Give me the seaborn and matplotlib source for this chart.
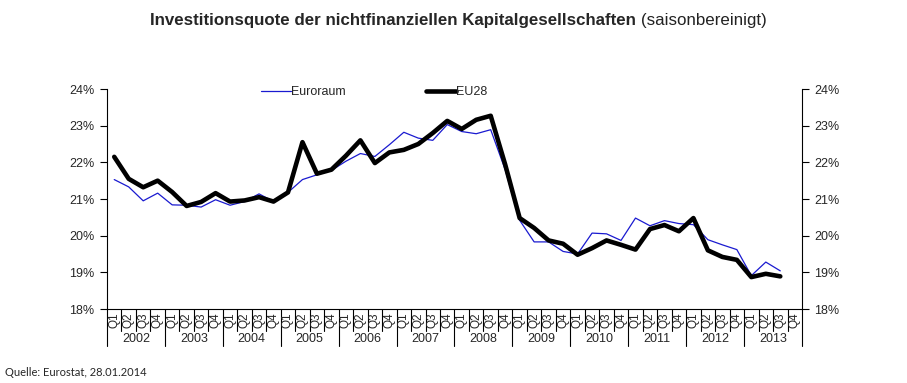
import numpy as np
import pandas as pd
import matplotlib
matplotlib.use('Agg')
import matplotlib.pyplot as plt
import matplotlib.transforms as mtransforms
import seaborn as sns

# quarterly data 2002Q1 - 2013Q3 (2013Q4 not yet available)
years = ['2002', '2003', '2004', '2005', '2006', '2007',
         '2008', '2009', '2010', '2011', '2012', '2013']
quarters = ['Q1', 'Q2', 'Q3', 'Q4']

euroraum = [21.53, 21.33, 20.95, 21.16, 20.84, 20.83, 20.78, 20.98,
            20.83, 20.93, 21.14, 20.93, 21.18, 21.53, 21.66, 21.78,
            22.03, 22.24, 22.16, 22.48, 22.82, 22.66, 22.60, 23.03,
            22.84, 22.78, 22.89, 21.80, 20.42, 19.83, 19.83, 19.57,
            19.50, 20.07, 20.05, 19.87, 20.48, 20.27, 20.41, 20.33,
            20.30, 19.89, 19.75, 19.62, 18.91, 19.28, 19.04]

eu28 = [22.15, 21.55, 21.32, 21.50, 21.19, 20.81, 20.92, 21.16,
        20.93, 20.96, 21.05, 20.93, 21.18, 22.55, 21.69, 21.80,
        22.18, 22.60, 21.98, 22.27, 22.34, 22.50, 22.80, 23.13,
        22.91, 23.16, 23.27, 21.94, 20.48, 20.21, 19.87, 19.78,
        19.48, 19.66, 19.87, 19.75, 19.62, 20.18, 20.29, 20.12,
        20.48, 19.60, 19.42, 19.34, 18.87, 18.96, 18.89]

yticks = [18, 19, 20, 21, 22, 23, 24]

sns.set_style('ticks')
plt.rcParams['font.family'] = ['Liberation Sans', 'DejaVu Sans']

fig = plt.figure(figsize=(9.07, 3.83), dpi=100)
ax = fig.add_axes([107 / 907, 1 - 309 / 383, 695 / 907, 220 / 383])

df = pd.DataFrame({'idx': np.arange(len(eu28)), 'Euroraum': euroraum, 'EU28': eu28})
sns.lineplot(data=df, x='idx', y='Euroraum', ax=ax, color='#1a1ad0', linewidth=0.9,
             label='Euroraum')
sns.lineplot(data=df, x='idx', y='EU28', ax=ax, color='black', linewidth=3.3,
             label='EU28')

n_q = len(years) * 4
ax.set_xlim(-0.5, n_q - 0.5)
ax.set_ylim(18, 24)
ax.set_xlabel('')
ax.set_ylabel('')
ax.set_yticks(yticks)
ax.set_yticklabels([f'{t}%' for t in yticks])
ax.tick_params(axis='y', which='both', left=True, right=True, labelleft=True,
               labelright=True, direction='out', length=5, width=0.8,
               labelsize=9, pad=4, color='black')
ax.set_xticks([])
for side in ['left', 'right', 'bottom']:
    ax.spines[side].set_color('black')
    ax.spines[side].set_linewidth(0.8)
ax.spines['top'].set_visible(False)

# category axis: quarter labels, year labels and separators below the plot
trans = mtransforms.blended_transform_factory(ax.transData, ax.transAxes)
px = 1 / 220
for i in range(n_q + 1):
    x = i - 0.5
    low = -37 * px if i % 4 == 0 else -22 * px
    ax.plot([x, x], [0, low], transform=trans, color='black', lw=0.8, clip_on=False)
for i in range(n_q):
    ax.text(i, -11 * px, quarters[i % 4], transform=trans, rotation=90,
            ha='center', va='center', fontsize=8.5)
for j, yr in enumerate(years):
    ax.text(j * 4 + 1.5, -30 * px, yr, transform=trans, ha='center', va='center',
            fontsize=9)

leg = ax.legend(loc='center', bbox_to_anchor=(0.384, 0.985), ncol=2, frameon=False,
                handlelength=2.4, handletextpad=0.0, columnspacing=6.4, fontsize=9)

# title: bold part followed by regular part
title_font = ['Liberation Sans Narrow', 'Liberation Sans', 'DejaVu Sans']
t1 = fig.text(150 / 907, 1 - 20 / 383, 'Investitionsquote der nichtfinanziellen Kapitalgesellschaften',
              fontsize=12.2, fontweight='bold', family=title_font, ha='left', va='center')
fig.canvas.draw()
bb = t1.get_window_extent(renderer=fig.canvas.get_renderer())
fig.text((bb.x1 + 5) / (9.07 * 100), 1 - 20 / 383, '(saisonbereinigt)',
         fontsize=12.2, family=title_font, ha='left', va='center', color='#222222')

fig.text(5 / 907, 1 - 372 / 383, 'Quelle: Eurostat, 28.01.2014', fontsize=8,
         family=['Lato', 'DejaVu Sans'], ha='left', va='center')

fig.savefig('out.png', dpi=100)
